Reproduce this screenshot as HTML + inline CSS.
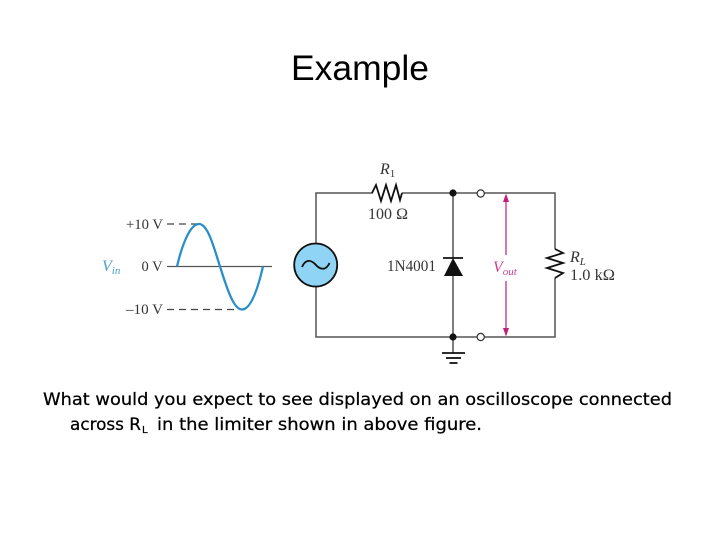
<!DOCTYPE html>
<html>
<head>
<meta charset="utf-8">
<style>
html,body{margin:0;padding:0;background:#fff;width:720px;height:540px;overflow:hidden}
svg{display:block}
.s{font-family:"Liberation Serif",serif;fill:#333}
.i{font-style:italic}
.b{font-family:"DejaVu Sans",sans-serif;font-size:17px;fill:#000;stroke:#000;stroke-width:.25}
</style>
</head>
<body>
<svg width="720" height="540" viewBox="0 0 720 540" xmlns="http://www.w3.org/2000/svg">
<text x="291" y="80" font-family="Liberation Sans, sans-serif" font-size="35.5" fill="#000" textLength="138" lengthAdjust="spacingAndGlyphs">Example</text>

<!-- waveform -->
<line x1="167" y1="266.5" x2="272" y2="266.5" stroke="#555" stroke-width="1.3"/>
<line x1="167" y1="224" x2="198" y2="224" stroke="#444" stroke-width="1.2" stroke-dasharray="7 5"/>
<line x1="167" y1="309.5" x2="235" y2="309.5" stroke="#444" stroke-width="1.2" stroke-dasharray="7 5"/>
<path d="M177 266.5C182 245 190 224 199 224C208 224 214 248 220 266.5C226 285 233 309.5 242 309.5C251 309.5 258 288 263 266.5" fill="none" stroke="#2a8fc6" stroke-width="2.3"/>
<text class="s" x="126" y="229" font-size="15" textLength="37" lengthAdjust="spacingAndGlyphs">+10 V</text>
<text class="s" x="141.500" y="271" font-size="15" textLength="21" lengthAdjust="spacingAndGlyphs">0 V</text>
<text class="s" x="126" y="314" font-size="15" textLength="37" lengthAdjust="spacingAndGlyphs">–10 V</text>
<text class="s i" x="102" y="271" font-size="16" style="fill:#4a9fd0">V<tspan font-size="11" dy="3">in</tspan></text>

<!-- wires -->
<g fill="none" stroke="#555" stroke-width="1.500">
<path d="M316 243V193H373M402 193H555V249M555 278V337H316V287"/>
<path d="M453 193V258M453 276V353"/>
</g>

<!-- source -->
<circle cx="315.700" cy="265" r="21.500" fill="#8fd4f5" stroke="#111" stroke-width="1.800"/>
<path d="M302 267C305 260 310 259 315 264C320 270 326 271 329.500 263" fill="none" stroke="#111" stroke-width="1.800"/>

<!-- R1 -->
<path d="M372 193L376 185L381 201L386 185L391 201L396 185L400 200L402 193" fill="none" stroke="#111" stroke-width="1.800"/>
<text class="s i" x="380" y="174" font-size="16">R<tspan font-style="normal" font-size="11" dy="3">1</tspan></text>
<text class="s" x="368" y="219" font-size="15.500" textLength="40" lengthAdjust="spacingAndGlyphs">100 Ω</text>

<!-- RL -->
<path d="M555 249L563 253L547 258L563 263L547 268L563 273L555 278" fill="none" stroke="#111" stroke-width="1.800"/>
<text class="s i" x="570" y="262" font-size="16">R<tspan font-size="11" dy="3">L</tspan></text>
<text class="s" x="570" y="280" font-size="15.500" textLength="45" lengthAdjust="spacingAndGlyphs">1.0 kΩ</text>

<!-- diode -->
<line x1="443" y1="258" x2="463" y2="258" stroke="#111" stroke-width="1.800"/>
<polygon points="453,258 463,276 444,276" fill="#111"/>
<text class="s" x="387" y="271" font-size="15.500" textLength="49" lengthAdjust="spacingAndGlyphs">1N4001</text>

<!-- nodes -->
<circle cx="453" cy="193" r="3.600" fill="#111"/>
<circle cx="453" cy="337" r="3.600" fill="#111"/>
<circle cx="480.700" cy="193.500" r="3.600" fill="#fff" stroke="#333" stroke-width="1.200"/>
<circle cx="480.700" cy="337" r="3.600" fill="#fff" stroke="#333" stroke-width="1.200"/>

<!-- ground -->
<line x1="442" y1="353" x2="465" y2="353" stroke="#111" stroke-width="1.800"/>
<line x1="446" y1="358" x2="461" y2="358" stroke="#111" stroke-width="1.800"/>
<line x1="449.500" y1="363" x2="457.500" y2="363" stroke="#111" stroke-width="1.800"/>

<!-- Vout arrow -->
<g stroke="#c21f78" stroke-width="1.200">
<line x1="506" y1="198" x2="506" y2="255"/>
<line x1="506" y1="281" x2="506" y2="332"/>
</g>
<polygon points="506,193.500 503,202 509,202" fill="#c21f78"/>
<polygon points="506,336.500 503,328 509,328" fill="#c21f78"/>
<text class="s i" x="493" y="272" font-size="16" style="fill:#d0408c">V<tspan font-size="11" dy="3">out</tspan></text>

<!-- body text -->
<text class="b" x="43" y="405" textLength="629" lengthAdjust="spacingAndGlyphs">What would you expect to see displayed on an oscilloscope connected</text>
<text class="b" x="70" y="430" textLength="71" lengthAdjust="spacingAndGlyphs">across R</text>
<text class="b" x="142" y="433" style="font-size:10px">L</text>
<text class="b" x="157" y="430" textLength="325" lengthAdjust="spacingAndGlyphs">in the limiter shown in above figure.</text>
</svg>
</body>
</html>
